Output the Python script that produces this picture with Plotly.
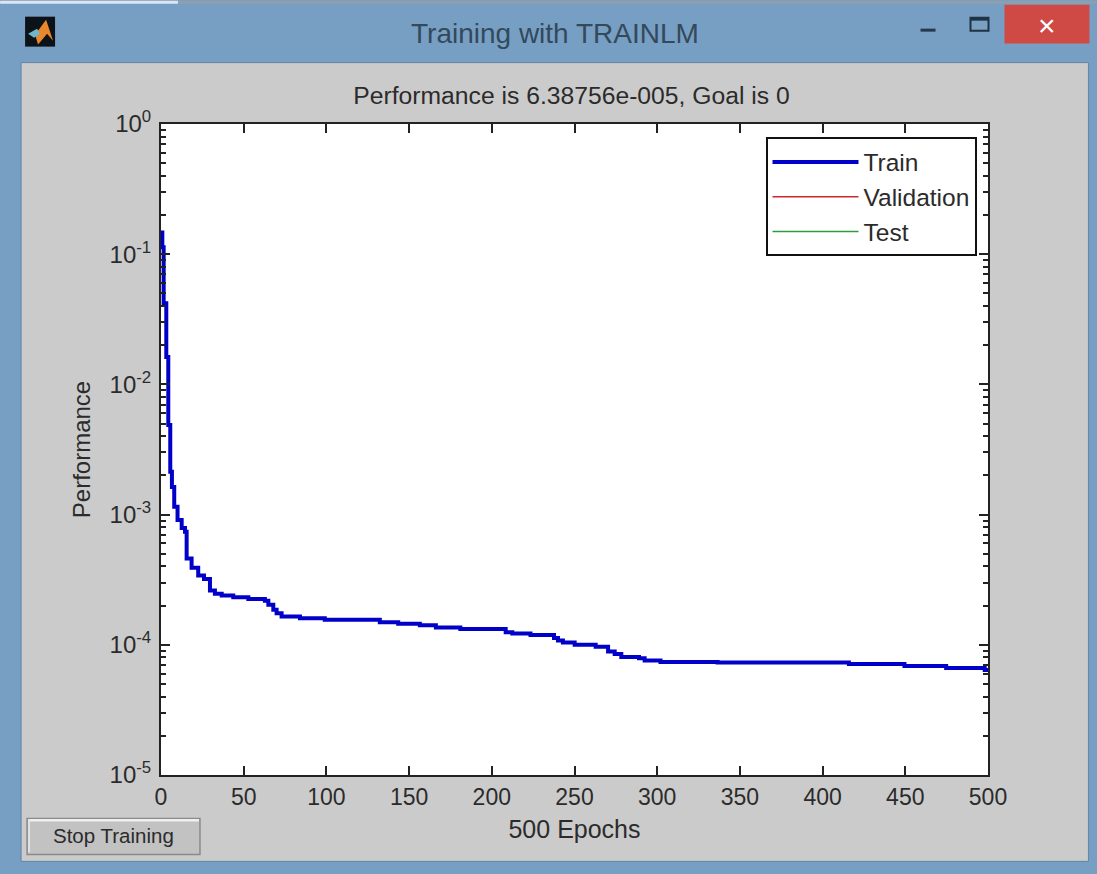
import plotly.graph_objects as go

# Data (staircase: each value holds until the next epoch)
epochs = [0, 0.8, 1.6, 3.2, 4.4, 5.6, 6.6, 8, 10, 12.5, 14.5, 15.5, 18.5, 22.5, 26, 29.6, 32.6, 36.7, 43.7, 52.8,
          62.8, 64.9, 67.9, 69.9, 72.9, 74.9, 84, 99, 132.3, 143.4, 156.5, 166.2, 181, 208.4, 212.4, 223.4, 237.6,
          240, 243, 250.1, 262.8, 270.3, 274.3, 278.3, 289, 292.4, 302, 336.5, 415.9, 449.5, 474.7, 498, 500]
train = [0.147, 0.113, 0.042, 0.0162, 0.00488, 0.00213, 0.00163, 0.00115, 0.00091, 0.00079, 0.00074, 0.00046,
         0.00039, 0.00034, 0.00032, 0.000261, 0.000247, 0.000239, 0.000232, 0.000225,
         0.000218, 0.000203, 0.000186, 0.000175, 0.000165, 0.000165, 0.00016, 0.000156, 0.000149, 0.000145,
         0.000141, 0.000136, 0.000132, 0.000125, 0.000122, 0.000119, 0.000113,
         0.000108, 0.000104, 0.0001, 0.0000966, 0.000089, 0.000085, 0.0000805, 0.0000787, 0.0000759, 0.0000738,
         0.0000732, 0.0000713, 0.0000687, 0.0000663, 0.000064, 0.0000639]
x_ticks = [0, 50, 100, 150, 200, 250, 300, 350, 400, 450, 500]
y_ticks = [1e-5, 1e-4, 1e-3, 1e-2, 1e-1, 1]
y_labels = ["10<sup>-5</sup>", "10<sup>-4</sup>", "10<sup>-3</sup>", "10<sup>-2</sup>", "10<sup>-1</sup>", "10<sup>0</sup>"]
y_minor = [m * d for d in y_ticks[:-1] for m in range(2, 10)]

W, H = 1097, 874
L, R, T, B = 161, 988.5, 123.5, 775.5
FONT = "Liberation Sans, Arial, sans-serif"
INK = "#2b2b2b"


def px(x):
    return (x - L) / (R - L)


def py(y):
    return (B - y) / (B - T)


def box(x0, y0, x1, y1, fill, line=None, width=0):
    return dict(type="rect", xref="paper", yref="paper", layer="below",
                x0=px(x0), x1=px(x1), y0=py(y0), y1=py(y1),
                fillcolor=fill, line=dict(color=line or fill, width=width))


def poly(points, fill):
    d = "M " + " L ".join(f"{px(a):.5f},{py(b):.5f}" for a, b in points) + " Z"
    return dict(type="path", xref="paper", yref="paper", layer="below", path=d,
                fillcolor=fill, line=dict(color=fill, width=0))


def note(x, y, text, size, color=INK):
    return dict(xref="paper", yref="paper", x=px(x), y=py(y),
                text=text, showarrow=False, xanchor="center", yanchor="middle",
                font=dict(family=FONT, size=size, color=color))


fig = go.Figure()
fig.add_trace(go.Scatter(x=epochs, y=train, mode="lines", name="Train",
                         line=dict(color="#0000C8", width=4, shape="hv")))
fig.add_trace(go.Scatter(x=[None], y=[None], mode="lines", name="Validation",
                         line=dict(color="#D0282D", width=1.5)))
fig.add_trace(go.Scatter(x=[None], y=[None], mode="lines", name="Test",
                         line=dict(color="#2E9B3D", width=1.5)))

shapes = [
    box(0, 0, 178, 3, "#DDE6EE"),
    box(178, 0, W, 3, "#8E9FAF"),
    box(21, 62, 1089, 862, "#CBCBCB", "#5F86A8", 1),
    box(L, T, R, B, "#FFFFFF"),
    box(1005, 4, 1090, 43, "#CF4A45"),
    box(921, 28, 936, 31, "#26384A"),
    box(971, 17, 989, 30, "#7AA0C2", "#1F3347", 2),
    box(971, 17, 989, 20, "#1F3347"),
    box(25, 16, 55, 46, "#0C1318"),
    poly([(35, 34), (46, 19), (53, 40), (47, 33), (38, 44)], "#E8872B"),
    poly([(28, 33), (37, 28), (40, 33), (34, 37)], "#6FB7CF"),
    box(27, 819, 200, 855, "#C2C2C2", "#8A8A8A", 1.5),
    box(28, 819.5, 199, 822, "#F0F0F0"),
    box(28, 820, 30, 853, "#E2E2E2"),
]

annotations = [
    note(555, 33, "Training with TRAINLM", 28, "#33495C"),
    note(1048, 25, "×", 30, "#FFFFFF"),
    note(113, 836, "Stop Training", 20.5),
]

fig.update_layout(
    width=W, height=H, autosize=False,
    margin=dict(l=L, r=W - R, t=T, b=H - B, pad=0),
    paper_bgcolor="#779FC3", plot_bgcolor="#FFFFFF",
    font=dict(family=FONT, size=23, color=INK),
    title=dict(text="Performance is 6.38756e-005, Goal is 0", x=(353 + 790) / 2 / W, xanchor="center",
               y=1 - 95 / H, yanchor="middle", font=dict(size=24.7, color=INK)),
    shapes=shapes, annotations=annotations,
    legend=dict(x=px(977), xanchor="right", y=py(137), yanchor="top",
                bgcolor="#FFFFFF", bordercolor="#111111", borderwidth=2, itemwidth=86,
                font=dict(size=24.5, color=INK)),
    xaxis=dict(range=[0, 500], tickmode="array", tickvals=x_ticks, ticks="inside", ticklen=9, tickwidth=1.5,
               tickcolor="#222222", linecolor="#222222", linewidth=2, mirror="ticks", showgrid=False, zeroline=False,
               tickfont=dict(size=23), title=dict(text="500 Epochs", font=dict(size=25), standoff=12)),
    yaxis=dict(type="log", range=[-5, 0], tickmode="array", tickvals=y_ticks, ticktext=y_labels, ticks="inside",
               ticklen=9, tickwidth=1.5, tickcolor="#222222", linecolor="#222222", linewidth=2, mirror="ticks",
               showgrid=False, zeroline=False, tickfont=dict(size=24), ticklabelstandoff=3,
               minor=dict(tickmode="array", tickvals=y_minor, ticks="inside", ticklen=5, tickwidth=1.5,
                          tickcolor="#222222", showgrid=False),
               title=dict(text="Performance", font=dict(size=24), standoff=12)),
)

fig.write_html("out.html", config={"displayModeBar": False},
               post_script="document.body.style.margin='0';document.body.style.overflow='hidden';")
